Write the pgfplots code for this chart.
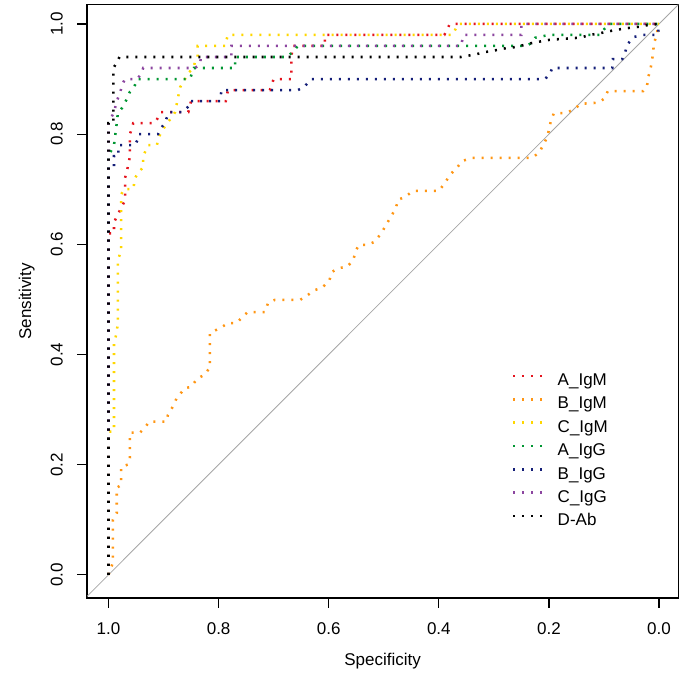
\documentclass[border=0pt]{standalone}
\usepackage{fontspec}
\setmainfont{Liberation Sans}
\usepackage{pgfplots}
\pgfplotsset{compat=1.18}
\definecolor{cAM}{RGB}{228,20,30}
\definecolor{cBM}{RGB}{255,150,20}
\definecolor{cCM}{RGB}{255,215,0}
\definecolor{cAG}{RGB}{0,150,50}
\definecolor{cBG}{RGB}{20,30,120}
\definecolor{cCG}{RGB}{140,70,160}
\newcommand\fsz{\fontsize{12.75pt}{15pt}\selectfont}
\begin{document}
\begin{tikzpicture}
\begin{axis}[
  scale only axis, width=443.25pt, height=444.75pt,
  x dir=reverse, xmin=-0.035, xmax=1.039, ymin=-0.042, ymax=1.035,
  axis line style={line width=0.9pt},
  xtick={0,0.2,0.4,0.6,0.8,1}, ytick={0,0.2,0.4,0.6,0.8,1},
  xtick pos=left, ytick pos=left, tick align=outside,
  major tick length=7.5pt, tick style={black, line width=0.9pt},
  /pgf/number format/assume math mode=true,
  /pgf/number format/fixed, /pgf/number format/fixed zerofill, /pgf/number format/precision=1,
  xticklabel style={font=\fsz, inner sep=0pt, anchor=north},
  yticklabel style={font=\fsz, inner sep=0pt, rotate=90, anchor=south},
  xticklabel shift=11pt, yticklabel shift=10.5pt,
  xlabel={Specificity}, xlabel style={at={(axis description cs:0.5,-0.0927)}, anchor=north, inner sep=0pt, font=\fsz},
  ylabel={Sensitivity}, ylabel style={at={(axis description cs:-0.088,0.5)}, anchor=south, inner sep=0pt, font=\fsz},
  legend style={draw=none, fill=none, at={(axis description cs:0.718,0.379)}, anchor=north west, inner sep=0pt, row sep=5.7pt, column sep=11pt, font=\fsz, nodes={inner sep=0pt, text height=9.2pt, text depth=2.6pt}},
  legend cell align=left,
  legend image code/.code={\draw[#1] (0pt,4pt) -- (21.5pt,4pt);},
  every axis plot/.append style={line width=1.9pt, dash pattern=on 1.5pt off 5.25pt},
]
\addplot[gray!70, line width=0.6pt, solid, forget plot] coordinates {(1.2,-0.2) (-0.2,1.2)};

% A_IgM
\addplot[cAM] coordinates {(1,0)(1,0.62)(0.99,0.62)(0.99,0.64)(0.98,0.66)(0.97,0.68)(0.97,0.72)(0.965,0.74)(0.961,0.76)(0.961,0.80)(0.955,0.82)(0.916,0.82)(0.91,0.83)(0.905,0.84)(0.855,0.84)(0.85,0.86)(0.787,0.86)(0.783,0.88)(0.707,0.88)(0.70,0.90)(0.668,0.90)(0.668,0.94)(0.665,0.96)(0.607,0.96)(0.607,0.98)(0.39,0.98)(0.38,1.0)(0,1.0)};
\addlegendentry{A\_IgM}
% B_IgM
\addplot[cBM] coordinates {(1,0)(0.992,0.022)(0.992,0.10)(0.985,0.112)(0.985,0.158)(0.977,0.163)(0.977,0.196)(0.965,0.20)(0.961,0.212)(0.961,0.258)(0.943,0.258)(0.934,0.267)(0.926,0.278)(0.895,0.278)(0.892,0.29)(0.886,0.30)(0.876,0.321)(0.861,0.339)(0.85,0.341)(0.839,0.356)(0.826,0.363)(0.816,0.376)(0.816,0.439)(0.797,0.448)(0.783,0.457)(0.767,0.457)(0.757,0.468)(0.747,0.477)(0.716,0.477)(0.71,0.494)(0.698,0.499)(0.652,0.499)(0.638,0.508)(0.625,0.517)(0.612,0.521)(0.599,0.534)(0.594,0.55)(0.581,0.557)(0.567,0.559)(0.556,0.57)(0.55,0.59)(0.545,0.599)(0.529,0.599)(0.518,0.604)(0.505,0.619)(0.496,0.635)(0.487,0.65)(0.478,0.666)(0.474,0.681)(0.461,0.686)(0.447,0.697)(0.40,0.697)(0.389,0.711)(0.38,0.726)(0.367,0.739)(0.358,0.751)(0.34,0.757)(0.231,0.757)(0.218,0.766)(0.211,0.779)(0.203,0.795)(0.196,0.826)(0.191,0.838)(0.171,0.838)(0.156,0.844)(0.142,0.855)(0.111,0.857)(0.10,0.864)(0.093,0.878)(0.029,0.878)(0.022,0.886)(0.02,0.902)(0.016,0.917)(0.013,0.931)(0.011,0.947)(0.009,0.966)(0.004,0.98)(0.002,0.996)(0,1)};
\addlegendentry{B\_IgM}
% C_IgM
\addplot[cCM] coordinates {(1,0)(1,0.26)(0.99,0.26)(0.99,0.42)(0.985,0.44)(0.983,0.46)(0.983,0.57)(0.977,0.59)(0.977,0.69)(0.972,0.70)(0.955,0.70)(0.952,0.72)(0.946,0.73)(0.937,0.74)(0.937,0.76)(0.928,0.78)(0.912,0.78)(0.91,0.79)(0.906,0.80)(0.90,0.81)(0.894,0.82)(0.885,0.83)(0.879,0.84)(0.875,0.86)(0.873,0.87)(0.87,0.885)(0.861,0.90)(0.856,0.91)(0.846,0.92)(0.843,0.93)(0.838,0.94)(0.838,0.96)(0.788,0.96)(0.786,0.97)(0.783,0.98)(0.375,0.98)(0.365,1.0)(0,1.0)};
\addlegendentry{C\_IgM}
% A_IgG
\addplot[cAG] coordinates {(1,0)(1,0.76)(0.99,0.78)(0.985,0.82)(0.983,0.838)(0.975,0.848)(0.97,0.857)(0.961,0.877)(0.953,0.886)(0.948,0.90)(0.852,0.90)(0.845,0.92)(0.77,0.92)(0.77,0.94)(0.675,0.94)(0.665,0.95)(0.656,0.96)(0.24,0.96)(0.233,0.965)(0.225,0.975)(0.20,0.98)(0.107,0.98)(0.10,0.99)(0.09,1.0)(0,1.0)};
\addlegendentry{A\_IgG}
% B_IgG
\addplot[cBG] coordinates {(1,0)(1,0.74)(0.99,0.74)(0.99,0.76)(0.982,0.76)(0.982,0.78)(0.952,0.78)(0.947,0.79)(0.945,0.80)(0.91,0.80)(0.905,0.81)(0.898,0.82)(0.89,0.84)(0.865,0.84)(0.855,0.85)(0.852,0.86)(0.797,0.86)(0.795,0.88)(0.656,0.88)(0.645,0.885)(0.632,0.90)(0.207,0.90)(0.198,0.91)(0.194,0.92)(0.085,0.92)(0.084,0.936)(0.067,0.936)(0.062,0.947)(0.058,0.962)(0.047,0.976)(0.029,0.98)(0.002,0.98)(0,1)};
\addlegendentry{B\_IgG}
% C_IgG
\addplot[cCG] coordinates {(1,0)(1,0.82)(0.99,0.84)(0.985,0.86)(0.979,0.875)(0.975,0.89)(0.97,0.90)(0.948,0.90)(0.94,0.91)(0.937,0.92)(0.843,0.92)(0.834,0.926)(0.832,0.94)(0.777,0.94)(0.777,0.96)(0.36,0.96)(0.355,0.98)(0.25,0.98)(0.25,1)(0,1)};
\addlegendentry{C\_IgG}
% D-Ab
\addplot[black] coordinates {(1,0)(1,0.82)(0.991,0.82)(0.991,0.92)(0.985,0.93)(0.98,0.94)(0.36,0.94)(0.349,0.942)(0.332,0.945)(0.316,0.949)(0.302,0.951)(0.285,0.955)(0.267,0.957)(0.252,0.96)(0.238,0.964)(0.222,0.967)(0.20,0.971)(0.174,0.973)(0.144,0.975)(0.125,0.98)(0.098,0.985)(0.08,0.989)(0.053,0.993)(0.035,0.995)(0.02,0.998)(0,1)};
\addlegendentry{D-Ab}
\end{axis}
\pgfresetboundingbox
\path[use as bounding box] ([xshift=-65.25pt,yshift=-66.75pt]current axis.south west) rectangle ([xshift=6pt,yshift=3.5pt]current axis.north east);
\end{tikzpicture}
\end{document}
